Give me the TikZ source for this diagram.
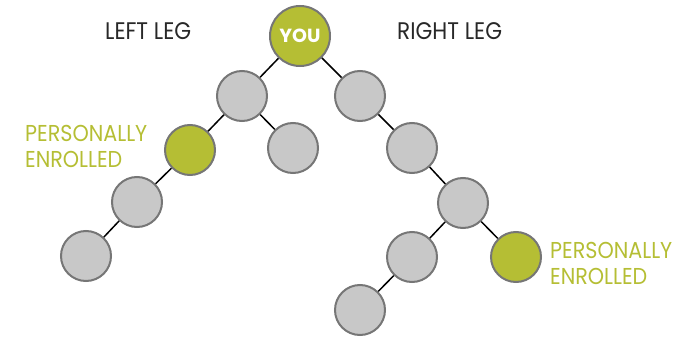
\documentclass[tikz,border=0pt]{standalone}
\usepackage{fontspec}
\setmainfont{Poppins}
\newfontfamily\narrowfont[FakeStretch=0.9]{Poppins}
\definecolor{leaf}{RGB}{181,190,52}
\definecolor{nodefill}{RGB}{200,200,200}
\definecolor{nodeline}{RGB}{118,118,118}
\definecolor{textgray}{RGB}{40,40,40}
\begin{document}
\begin{tikzpicture}[x=1pt,y=-1pt,
  member/.style={circle,draw=nodeline,line width=2pt,fill=nodefill,minimum size=50pt,inner sep=0pt},
  enrolled/.style={member,fill=leaf},
  rootnode/.style={member,fill=leaf,minimum size=60pt,font=\fontsize{19}{19}\selectfont\bfseries,text=white},
  link/.style={line width=1.5pt,black},
  legtext/.style={font=\narrowfont\fontsize{24}{24}\selectfont,text=textgray,inner sep=0pt},
  pe/.style={font=\narrowfont\fontsize{23}{26}\selectfont,text=leaf,align=left,inner sep=0pt}]
\useasboundingbox (0,0) rectangle (686,337);
\node[rootnode] (you) at (300,36) {YOU};
\node[member] (l1) at (242,96) {};
\node[member] (r1) at (360,96) {};
\node[enrolled] (l2) at (190,150) {};
\node[member] (l2b) at (293,148) {};
\node[member] (r2) at (412,148) {};
\node[member] (l3) at (137,202) {};
\node[member] (r3) at (463,203) {};
\node[member] (l4) at (86,256) {};
\node[member] (r4a) at (412,257) {};
\node[enrolled] (r4b) at (516,257) {};
\node[member] (r5) at (360,310) {};
\draw[link] (you) -- (l1);
\draw[link] (you) -- (r1);
\draw[link] (l1) -- (l2);
\draw[link] (l1) -- (l2b);
\draw[link] (l2) -- (l3);
\draw[link] (l3) -- (l4);
\draw[link] (r1) -- (r2);
\draw[link] (r2) -- (r3);
\draw[link] (r3) -- (r4a);
\draw[link] (r3) -- (r4b);
\draw[link] (r4a) -- (r5);
\node[legtext,anchor=west] (ll) at (105,31.5) {LEFT LEG};
\node[legtext,anchor=west] (rl) at (397,31.5) {RIGHT LEG};
\node[pe,anchor=north west] (pel) at (25,125) {PERSONALLY\\ENROLLED};
\node[pe,anchor=north west] (per) at (550,242) {PERSONALLY\\ENROLLED};
\end{tikzpicture}
\end{document}
